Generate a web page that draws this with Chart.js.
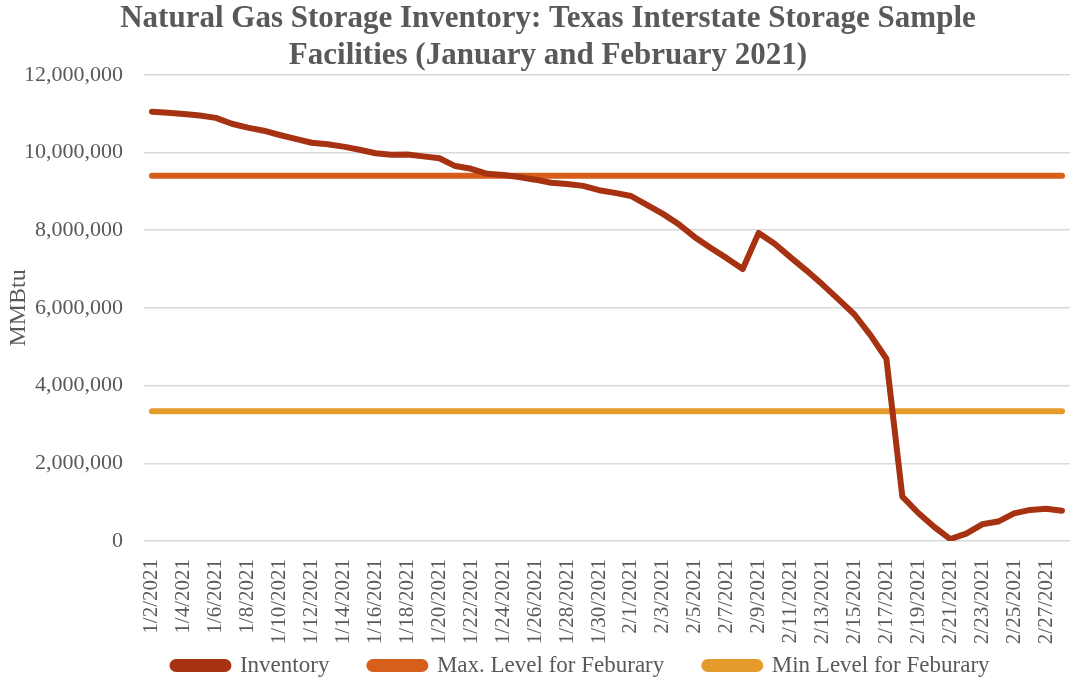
<!DOCTYPE html>
<html>
<head>
<meta charset="utf-8">
<script src="https://cdn.jsdelivr.net/npm/chart.js@4/dist/chart.umd.min.js"></script>
<style>
  html, body { margin: 0; padding: 0; background: #fff; }
  #wrap { width: 1070px; height: 679px; }
</style>
</head>
<body>
<div id="wrap"><canvas id="mycanvas" width="1070" height="679"></canvas></div>
<script>
// dates in Jan/Feb 2021
var dates = [
	"1/2/2021", "1/3/2021", "1/4/2021", "1/5/2021", "1/6/2021", "1/7/2021", "1/8/2021", "1/9/2021",
	"1/10/2021", "1/11/2021", "1/12/2021", "1/13/2021", "1/14/2021", "1/15/2021", "1/16/2021",
	"1/17/2021", "1/18/2021", "1/19/2021", "1/20/2021", "1/21/2021", "1/22/2021", "1/23/2021",
	"1/24/2021", "1/25/2021", "1/26/2021", "1/27/2021", "1/28/2021", "1/29/2021", "1/30/2021",
	"1/31/2021", "2/1/2021", "2/2/2021", "2/3/2021", "2/4/2021", "2/5/2021", "2/6/2021",
	"2/7/2021", "2/8/2021", "2/9/2021", "2/10/2021", "2/11/2021", "2/12/2021", "2/13/2021",
	"2/14/2021", "2/15/2021", "2/16/2021", "2/17/2021", "2/18/2021", "2/19/2021", "2/20/2021",
	"2/21/2021", "2/22/2021", "2/23/2021", "2/24/2021", "2/25/2021", "2/26/2021", "2/27/2021",
	"2/28/2021"
];

// MMBtu
var inventory = [
	11050000, 11020000, 10990000, 10950000, 10890000, 10740000, 10640000, 10560000,
	10450000, 10350000, 10250000, 10210000, 10150000, 10070000, 9980000,
	9940000, 9950000, 9900000, 9850000, 9650000, 9580000, 9450000,
	9420000, 9370000, 9300000, 9220000, 9190000, 9140000, 9030000,
	8960000, 8880000, 8650000, 8420000, 8150000, 7820000, 7540000,
	7280000, 7000000, 7930000, 7650000, 7300000, 6960000, 6600000,
	6220000, 5830000, 5300000, 4690000, 1140000, 720000, 360000,
	50000, 190000, 430000, 500000, 710000, 800000, 830000,
	780000
];

var maxLevel = 9400000;
var minLevel = 3340000;

var yTicks = [0, 2000000, 4000000, 6000000, 8000000, 10000000, 12000000];

var txt = "#595959";
var serif = "'Liberation Serif', 'DejaVu Serif', serif";

var chartdata = {
	labels: dates,
	datasets: [
		{
			label: "Inventory",
			data: inventory,
			borderColor: "rgb(166, 50, 18)",
			backgroundColor: "rgb(166, 50, 18)",
			borderWidth: 6,
			pointRadius: 0,
			fill: false,
			tension: 0,
			borderCapStyle: "round",
			borderJoinStyle: "round",
			order: 0
		},
		{
			label: "Max. Level for Feburary",
			data: dates.map(function(){ return maxLevel; }),
			borderColor: "rgb(216, 94, 28)",
			backgroundColor: "rgb(216, 94, 28)",
			borderWidth: 6,
			pointRadius: 0,
			fill: false,
			borderCapStyle: "round",
			order: 1
		},
		{
			label: "Min Level for Feburary",
			data: dates.map(function(){ return minLevel; }),
			borderColor: "rgb(229, 155, 43)",
			backgroundColor: "rgb(229, 155, 43)",
			borderWidth: 6,
			pointRadius: 0,
			fill: false,
			borderCapStyle: "round",
			order: 2
		}
	]
};

// nudge title and legend sideways like the original, and let the
// date labels run down next to the legend without being clipped
var shiftBoxes = {
	id: "shiftBoxes",
	afterLayout: function(chart) {
		if (chart.titleBlock) { chart.titleBlock.left += 11; chart.titleBlock.right += 11; }
		if (chart.legend) { chart.legend.left += 44; chart.legend.right += 44; }
		var x = chart.scales.x;
		x.bottom += 45;
		x.height += 45;
	}
};

var ctx = document.getElementById("mycanvas");

var LineGraph = new Chart(ctx, {
	type: 'line',
	data: chartdata,
	plugins: [shiftBoxes],
	options: {
		responsive: false,
		animation: false,
		layout: { padding: { left: 0, right: -4, top: 1, bottom: -8 } },
		plugins: {
			title: {
				display: true,
				text: ["Natural Gas Storage Inventory: Texas Interstate Storage Sample",
				       "Facilities (January and February 2021)"],
				color: txt,
				font: { family: serif, size: 31, weight: "bold", lineHeight: 1.19 },
				padding: { top: 0, bottom: 0 }
			},
			legend: {
				position: "bottom",
				labels: {
					color: txt,
					font: { family: serif, size: 23 },
					boxWidth: 56,
					boxHeight: 7,
					useBorderRadius: true,
					borderRadius: 3.5,
					padding: 40
				}
			},
			tooltip: { enabled: false }
		},
		scales: {
			x: {
				offset: true,
				grid: { display: false },
				border: { display: false },
				afterFit: function(axis) {
					axis.height = 73;
					axis.paddingLeft = 0;
					axis.paddingRight = 0;
				},
				ticks: {
					color: txt,
					font: { family: serif, size: 21 },
					autoSkip: false,
					minRotation: 90,
					maxRotation: 90,
					padding: 10,
					callback: function(val, i) {
						return i % 2 === 0 ? dates[i] : "";
					}
				}
			},
			y: {
				min: 0,
				max: 12000000,
				afterBuildTicks: function(axis) {
					axis.ticks = yTicks.map(function(v){ return { value: v }; });
				},
				afterFit: function(axis) {
					axis.width = 144;
				},
				grid: { color: "#d9d9d9", lineWidth: 1.5, drawTicks: false },
				border: { display: false },
				title: {
					display: true,
					text: "MMBtu",
					color: txt,
					font: { family: serif, size: 24 },
					padding: { top: 4, bottom: 0 }
				},
				ticks: {
					color: txt,
					font: { family: serif, size: 22 },
					padding: 21,
					callback: function(v) { return v.toLocaleString("en-US"); }
				}
			}
		}
	}
});
</script>
</body>
</html>
